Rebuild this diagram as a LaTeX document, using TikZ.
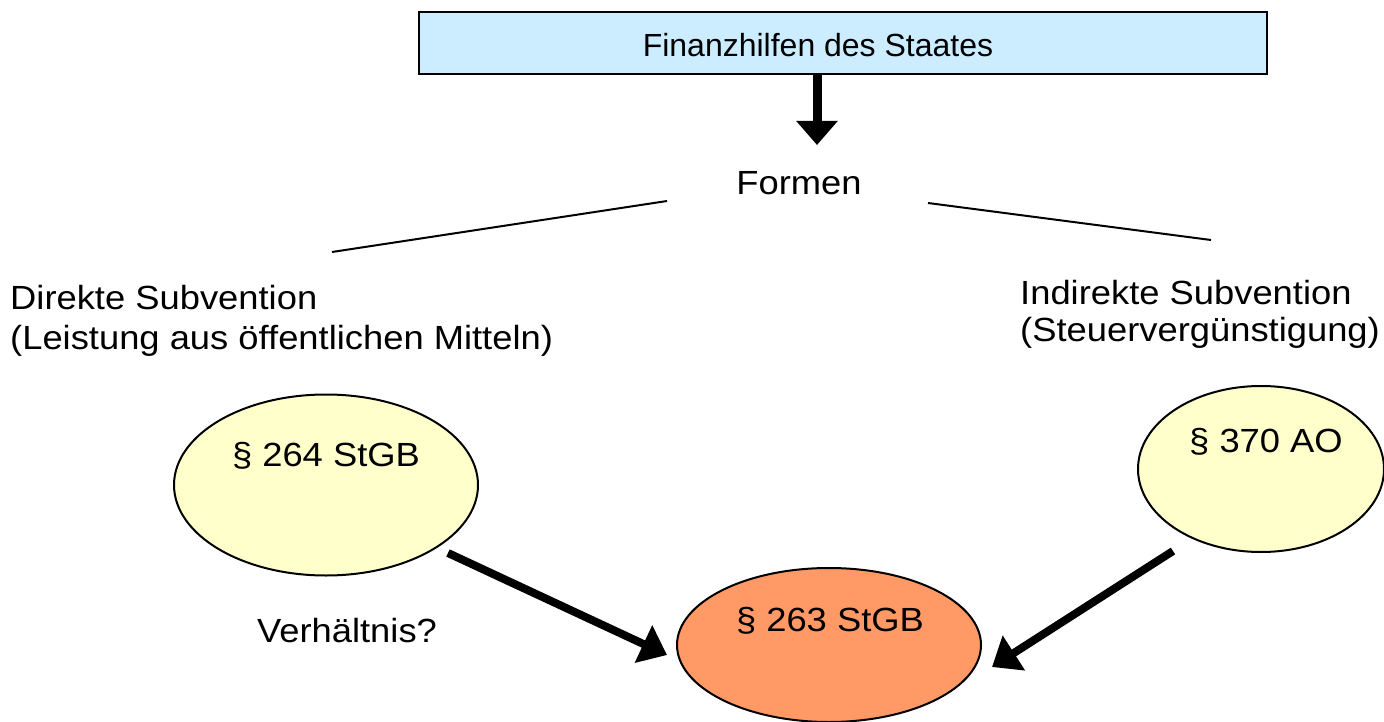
\documentclass[tikz,border=0pt]{standalone}
\usepackage{fontspec}
\setmainfont{Liberation Sans}[FakeStretch=1.085]
\newfontfamily\titlefont{Liberation Sans}
\usetikzlibrary{arrows.meta,shapes.geometric}
\definecolor{boxblue}{HTML}{CCECFF}
\definecolor{paleyellow}{HTML}{FFFFCC}
\definecolor{orangefill}{HTML}{FF9966}
\begin{document}
\begin{tikzpicture}[x=1pt,y=-1pt,
  txt/.style={font=\fontsize{33.5}{38}\selectfont, inner sep=0pt, anchor=base},
  oval/.style={ellipse, draw=black, line width=2pt, inner sep=0pt},
  thin/.style={line width=2pt},
  bigarrow/.style={line width=9pt, -{Triangle[length=24pt,width=40pt]}},
  diagarrow/.style={line width=8pt, -{Triangle[length=26pt,width=40pt]}}]
\useasboundingbox (0,0) rectangle (1384,722);
% title box
\node[draw=black, line width=2pt, fill=boxblue, minimum width=848pt, minimum height=62pt, inner sep=0pt] (title) at (843,43) {};
\node[inner sep=0pt, anchor=base, font=\titlefont\fontsize{32}{38}\selectfont] (titletext) at (818,57) {Finanzhilfen des Staates};
\node[txt] (formen) at (799,195) {Formen};
\coordinate (arrS) at (817,74);
\coordinate (arrE) at (817,145);
\draw[bigarrow] (arrS) -- (arrE);
% branch lines
\coordinate (lA) at (667,201);
\coordinate (lB) at (332,252);
\coordinate (rA) at (928,203);
\coordinate (rB) at (1211,240);
\draw[thin] (lA) -- (lB);
\draw[thin] (rA) -- (rB);
% category texts
\node[txt, anchor=base west] (direkt1) at (10,309) {Direkte Subvention};
\node[txt, anchor=base west] (direkt2) at (10,349) {(Leistung aus öffentlichen Mitteln)};
\node[txt, anchor=base west] (indirekt1) at (1020,304) {Indirekte Subvention};
\node[txt, anchor=base west] (indirekt2) at (1020,341) {(Steuervergünstigung)};
% ellipses
\node[oval, fill=paleyellow, minimum width=304pt, minimum height=181pt] (e264) at (326,485) {};
\node[txt] (t264) at (326,466) {§ 264 StGB};
\node[oval, fill=paleyellow, minimum width=246pt, minimum height=166pt] (e370) at (1261,469) {};
\node[txt] (t370) at (1266,452) {§ 370 AO};
\node[oval, fill=orangefill, minimum width=304pt, minimum height=154pt] (e263) at (829,645) {};
\node[txt] (t263) at (830,631) {§ 263 StGB};
\node[txt] (verh) at (347,642) {Verhältnis?};
% arrows
\coordinate (aL1) at (448,553);
\coordinate (aL2) at (667,655);
\coordinate (aR1) at (1173,551);
\coordinate (aR2) at (992,667);
\draw[diagarrow] (aL1) -- (aL2);
\draw[diagarrow] (aR1) -- (aR2);
\end{tikzpicture}
\end{document}
